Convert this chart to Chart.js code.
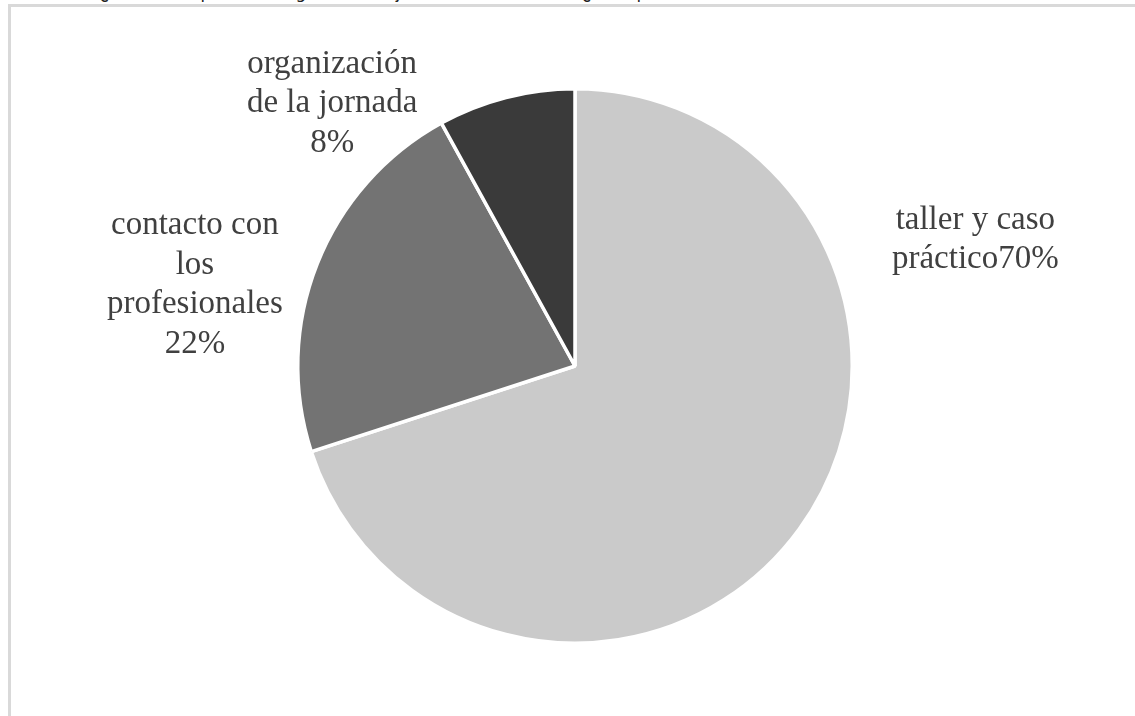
<!DOCTYPE html>
<html>
<head>
<meta charset="utf-8">
<script src="https://cdn.jsdelivr.net/npm/chart.js@4/dist/chart.umd.min.js"></script>
<style>
    body { margin: 0; background: #fff; overflow: hidden; }
    #caption {
        position: absolute; left: 12px; top: -18px;
        font-family: "DejaVu Sans", sans-serif; font-size: 17px; color: #222;
        white-space: nowrap;
    }
    #frame {
        position: absolute; left: 8px; top: 4px; right: 0; bottom: 0;
        border-left: 3px solid #d9d9d9; border-top: 3px solid #d9d9d9;
    }
    #pieChart { position: absolute; left: 0; top: 0; }
</style>
</head>
<body>
<div id="caption">Gráfico 8. ¿Qué es lo que más te gustó de la jornada - Consellería: ¿es lo profesión?</div>
<div id="frame"></div>
<canvas id="pieChart" width="1135" height="716"></canvas>
<script>
// data
const categories = ['taller y caso práctico', 'contacto con los profesionales', 'organización de la jornada'];
const values = [70, 22, 8];
// how each label is broken into lines ({p} = percentage)
const labelLines = [
    ['taller y caso', 'práctico{p}'],
    ['contacto con', 'los', 'profesionales', '{p}'],
    ['organización', 'de la jornada', '{p}']
];
const colors = ['#cacaca', '#737373', '#3a3a3a'];

// where each label block sits, relative to pie centre, in radius units (x = centre, y = first baseline)
const labelPlace = [
    { dx: 1.444, dy: -0.495 },
    { dx: -1.371, dy: -0.476 },
    { dx: -0.876, dy: -1.058 }
];

const pieLabels = {
    id: 'pieLabels',
    afterDatasetsDraw(chart) {
        const ctx = chart.ctx;
        const meta = chart.getDatasetMeta(0);
        const total = values.reduce((a, b) => a + b, 0);
        ctx.save();
        ctx.font = '33px "Liberation Serif", "Times New Roman", serif';
        ctx.fillStyle = '#404040';
        ctx.textAlign = 'center';
        ctx.textBaseline = 'alphabetic';
        meta.data.forEach((arc, i) => {
            const r = arc.outerRadius;
            const x = arc.x + labelPlace[i].dx * r;
            let y = arc.y + labelPlace[i].dy * r;
            const pct = Math.round(values[i] / total * 100) + '%';
            labelLines[i].forEach(line => {
                ctx.fillText(line.replace('{p}', pct), x, y);
                y += 39.5;
            });
        });
        ctx.restore();
    }
};

new Chart(document.getElementById('pieChart').getContext('2d'), {
    type: 'pie',
    data: {
        labels: categories,
        datasets: [{
            data: values,
            backgroundColor: colors,
            borderColor: '#ffffff',
            borderWidth: 3.5
        }]
    },
    options: {
        responsive: false,
        animation: false,
        layout: { padding: { top: 87, bottom: 71, left: 296, right: 281 } },
        plugins: {
            legend: { display: false },
            tooltip: { enabled: false }
        }
    },
    plugins: [pieLabels]
});
</script>
</body>
</html>
